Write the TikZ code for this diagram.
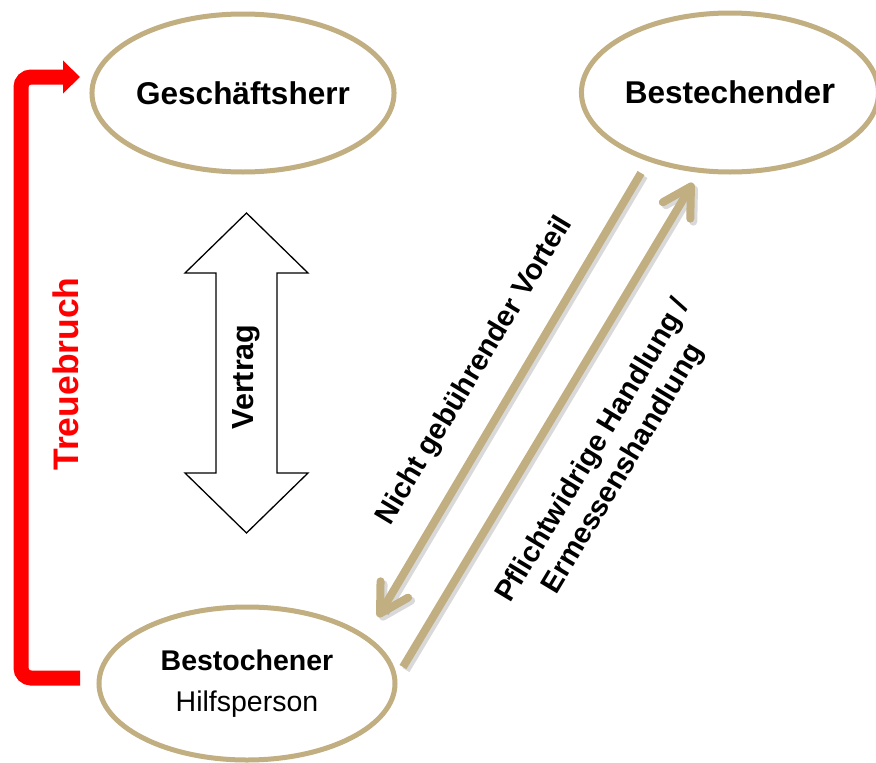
\documentclass[tikz,border=0pt]{standalone}
\usepackage{fontspec}
\setmainfont{Liberation Sans}
\usetikzlibrary{arrows.meta,shapes.geometric}
\definecolor{tanline}{RGB}{193,174,129}
\begin{document}
\begin{tikzpicture}[x=1pt,y=-1pt,
  person/.style={ellipse, draw=tanline, line width=5pt, fill=white,
    minimum width=296pt, minimum height=158pt, inner sep=0pt, align=center,
    font=\bfseries\fontsize{31.5}{36}\selectfont},
  tanarrow/.style={draw=tanline, line width=8pt,
    -{Straight Barb[length=28pt,width=32pt,round]}},
  tanshadow/.style={draw=black, opacity=0.15, line width=8pt,
    -{Straight Barb[length=28pt,width=32pt,round]},
    transform canvas={shift={(3pt,-3pt)}}},
  redarrow/.style={draw=red, line width=15pt, rounded corners=10pt,
    -{Triangle[length=17pt,width=32pt]}},
  lbl/.style={font=\bfseries\fontsize{29}{35}\selectfont, align=center}
]
\useasboundingbox (0,0) rectangle (876,763);

% persons
\node[person] (gh) at (243,93) {Geschäftsherr};
\node[person, minimum width=284pt, minimum height=159pt] (bd) at (730,92.5)
  {Bestechende{\fontsize{36}{36}\selectfont r}};
\node[person, minimum height=153pt, font=\bfseries\fontsize{28.5}{41}\selectfont]
  (bo) at (247,683.5) {Bestochener\\{\mdseries Hilfsperson}};

% Treuebruch
\coordinate (trA) at (80,678);
\coordinate (trB) at (80,77);
\draw[redarrow] (trA) -- (21,678) -- (21,77) -- (trB);
\node[rotate=90, text=red, font=\bfseries\fontsize{35.5}{40}\selectfont] (tb) at (66,374) {Treuebruch};

% Vertrag double arrow
\draw[line width=1.3pt, fill=white, line join=miter]
  (246.5,213) -- (308,273) -- (277,273) -- (277,473) -- (308,473) -- (246.5,533)
  -- (185,473) -- (216,473) -- (216,273) -- (185,273) -- cycle;
\node[rotate=90, font=\bfseries\fontsize{30.5}{36}\selectfont] (vt) at (246,377) {Vertrag};

% tan arrows
\coordinate (a1s) at (641,173);
\coordinate (a1e) at (378,617);
\coordinate (a2s) at (403,667);
\coordinate (a2e) at (693,183);
\draw[tanshadow] (a1s) -- (a1e);
\draw[tanshadow] (a2s) -- (a2e);
\draw[tanarrow] (a1s) -- (a1e);
\draw[tanarrow] (a2s) -- (a2e);

\node[lbl, rotate=59] (l1) at (475,371) {Nicht gebührender Vorteil};
\node[lbl, rotate=59] (l2) at (609,460) {Pflichtwidrige Handlung /\\Ermessenshandlung};
\end{tikzpicture}
\end{document}
